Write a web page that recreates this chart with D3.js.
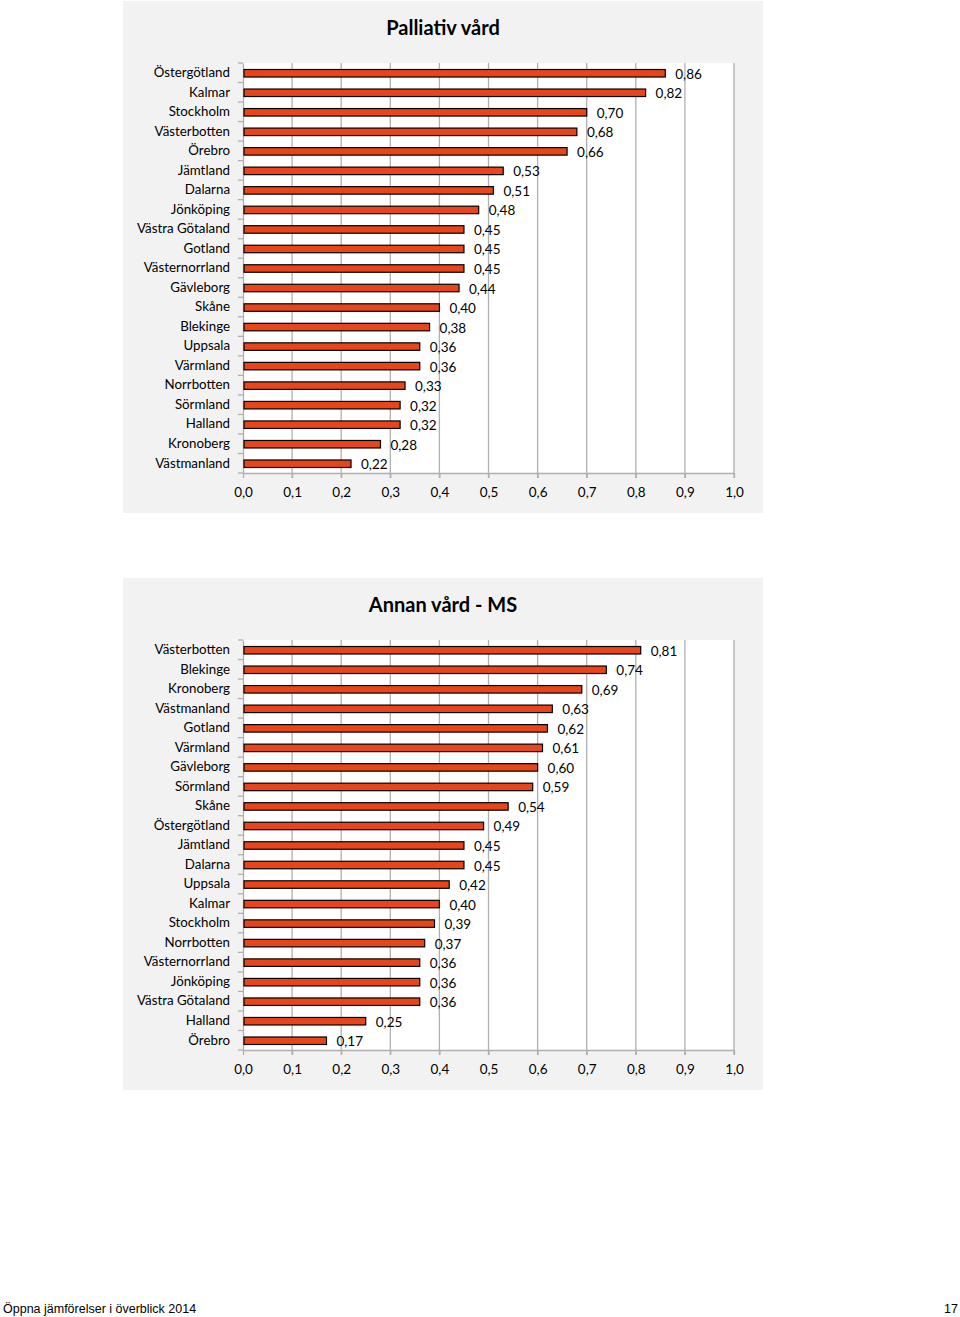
<!DOCTYPE html>
<html><head><meta charset="utf-8">
<script src="https://cdn.jsdelivr.net/npm/d3@7"></script>
<style>body{margin:0;background:#fff}svg{display:block}</style>
</head><body>
<script>
const title1 = "Palliativ vård";
const cats1 = ["Östergötland","Kalmar","Stockholm","Västerbotten","Örebro","Jämtland","Dalarna","Jönköping","Västra Götaland","Gotland","Västernorrland","Gävleborg","Skåne","Blekinge","Uppsala","Värmland","Norrbotten","Sörmland","Halland","Kronoberg","Västmanland"];
const vals1 = [0.86,0.82,0.70,0.68,0.66,0.53,0.51,0.48,0.45,0.45,0.45,0.44,0.40,0.38,0.36,0.36,0.33,0.32,0.32,0.28,0.22];
const title2 = "Annan vård - MS";
const cats2 = ["Västerbotten","Blekinge","Kronoberg","Västmanland","Gotland","Värmland","Gävleborg","Sörmland","Skåne","Östergötland","Jämtland","Dalarna","Uppsala","Kalmar","Stockholm","Norrbotten","Västernorrland","Jönköping","Västra Götaland","Halland","Örebro"];
const vals2 = [0.81,0.74,0.69,0.63,0.62,0.61,0.60,0.59,0.54,0.49,0.45,0.45,0.42,0.40,0.39,0.37,0.36,0.36,0.36,0.25,0.17];
const xTicks = [0,0.1,0.2,0.3,0.4,0.5,0.6,0.7,0.8,0.9,1.0];
const footerLeft = "Öppna jämförelser i överblick 2014";
const footerRight = "17";

const W = 960, H = 1317;
const svg = d3.select("body").append("svg").attr("width", W).attr("height", H);
const font = "Lato, 'Open Sans', sans-serif";
const fmt = v => d3.format(".2f")(v).replace(".", ",");
const fmtT = v => d3.format(".1f")(v).replace(".", ",");

function chart(top, title, cats, vals) {
  const g = svg.append("g");
  g.append("rect").attr("x",123).attr("y",top).attr("width",640).attr("height",512).attr("fill","#f2f2f2");
  const plotTop = top + 62, plotBottom = top + 472;
  const x = d3.scaleLinear().domain([0,1]).range([243,734]);
  const y = d3.scaleBand().domain(cats).range([plotTop, plotBottom]);
  g.append("rect").attr("x",243).attr("y",plotTop).attr("width",491).attr("height",plotBottom-plotTop).attr("fill","#fff");
  g.append("text").attr("x",443).attr("y",top+34).attr("text-anchor","middle")
    .attr("font-family",font).attr("font-weight","bold").attr("font-size",20).attr("fill","#000").text(title);
  // grid
  g.selectAll("line.grid").data(xTicks.slice(1)).join("line")
    .attr("x1",d=>x(d)).attr("x2",d=>x(d)).attr("y1",plotTop).attr("y2",plotBottom+5)
    .attr("stroke","#b0b0b0").attr("stroke-width",1.3);
  // x axis
  const xa = g.append("g").attr("transform",`translate(0,${plotBottom})`)
    .call(d3.axisBottom(x).tickValues(xTicks).tickSize(5).tickFormat(fmtT).tickSizeOuter(0));
  xa.select(".domain").attr("stroke","#b0b0b0").attr("stroke-width",1.3);
  xa.selectAll(".tick line").attr("stroke","#b0b0b0").attr("stroke-width",1.3);
  xa.selectAll("text").attr("font-family",font).attr("font-size",13.5).attr("fill","#000").attr("dy","1.2em");
  // y axis
  const ya = g.append("g").attr("transform","translate(243,0)")
    .call(d3.axisLeft(y).tickSize(0).tickPadding(13));
  ya.select(".domain").attr("stroke","#b0b0b0").attr("stroke-width",1.3);
  ya.selectAll("text").attr("font-family",font).attr("font-size",13.3).attr("fill","#000");
  // category boundary ticks
  const bounds = cats.map(c=>y(c)).concat([plotBottom]);
  g.selectAll("line.yt").data(bounds).join("line")
    .attr("x1",238).attr("x2",243).attr("y1",d=>d).attr("y2",d=>d)
    .attr("stroke","#b0b0b0").attr("stroke-width",1.3);
  // bars
  const bh = 7.5;
  g.selectAll("rect.bar").data(vals).join("rect")
    .attr("x",x(0)+1).attr("y",(d,i)=>y(cats[i])+y.bandwidth()/2-bh/2+0.5)
    .attr("width",d=>x(d)-x(0)-1).attr("height",bh)
    .attr("fill","#e8461a").attr("stroke","#000").attr("stroke-width",1.2);
  g.selectAll("text.lbl").data(vals).join("text")
    .attr("x",d=>x(d)+10).attr("y",(d,i)=>y(cats[i])+y.bandwidth()/2+6)
    .attr("font-family",font).attr("font-size",13.5).attr("fill","#000").text(d=>fmt(d));
}
chart(1, title1, cats1, vals1);
chart(578, title2, cats2, vals2);

svg.append("text").attr("x",3).attr("y",1313).attr("font-family","'Liberation Sans', Arial, sans-serif")
  .attr("font-size",12.5).attr("fill","#000").text(footerLeft);
svg.append("text").attr("x",958).attr("y",1313).attr("text-anchor","end").attr("font-family","'Liberation Sans', Arial, sans-serif")
  .attr("font-size",12.5).attr("fill","#000").text(footerRight);
</script>
</body></html>
